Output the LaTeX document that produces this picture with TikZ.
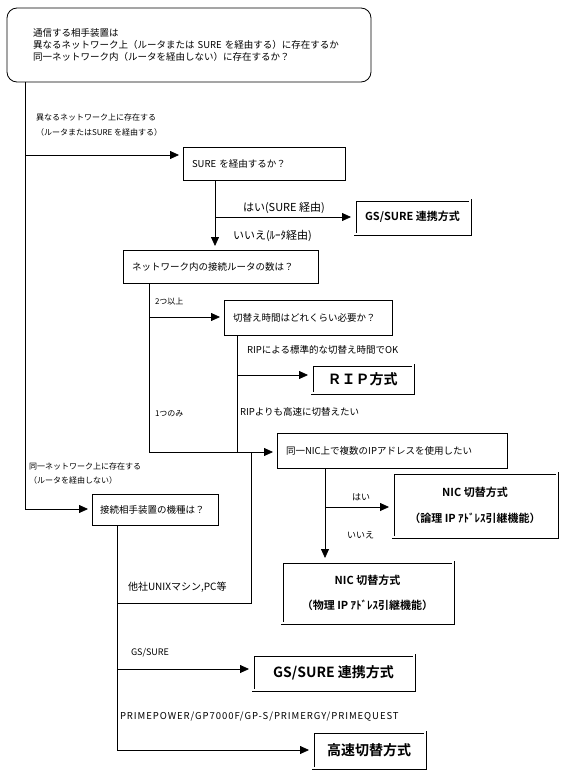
\documentclass[tikz,border=0pt]{standalone}
\usepackage{fontspec}
\setmainfont{Noto Sans CJK JP}[BoldFont={Noto Sans CJK JP Bold}]
\usetikzlibrary{arrows.meta}

\begin{document}
\begin{tikzpicture}[
    x=1pt, y=-1pt,
    every node/.style={inner sep=0pt, outer sep=0pt},
    link/.style={line width=0.8pt},
    arr/.style={link, -{Triangle[length=9pt, width=8pt]}, shorten >=4pt},
    qbox/.style={draw, line width=0.8pt, font=\fontsize{9.5}{12}\selectfont, align=left, inner xsep=9pt, anchor=north west},
    % result boxes
    endbox/.style={draw, double, double distance=1.6pt, line width=0.7pt, font=\bfseries, align=center, anchor=north west},
    lbl/.style={font=\fontsize{9.5}{12}\selectfont, anchor=west, align=left},
    smalllbl/.style={font=\fontsize{8}{15}\selectfont, anchor=west, align=left}
]
    \useasboundingbox (0,0) rectangle (573,778);

    % Question boxes
    \node (top) [draw, line width=0.8pt, rounded corners=10pt, anchor=north west, align=left,
        inner xsep=26pt, text width=312pt, minimum height=74pt, font=\fontsize{9.5}{12}\selectfont]
        at (7,8) {通信する相手装置は\\異なるネットワーク上（ルータまたは SURE を経由する）に存在するか\\同一ネットワーク内（ルータを経由しない）に存在するか？};
    \node (sure) [qbox, text width=144pt, minimum height=33pt] at (183,147) {SURE を経由するか？};
    \node (routers) [qbox, text width=177pt, minimum height=33pt] at (123,250) {ネットワーク内の接続ルータの数は？};
    \node (swtime) [qbox, text width=150pt, minimum height=35pt] at (224,300) {切替え時間はどれくらい必要か？};
    \node (nic) [qbox, text width=212pt, minimum height=35pt] at (277,433) {同一NIC上で複数のIPアドレスを使用したい};
    \node (model) [qbox, inner xsep=8pt, text width=110pt, minimum height=31pt] at (92,494) {接続相手装置の機種は？};

    % Result boxes
    \node (gs1) [endbox, minimum width=115pt, minimum height=34pt, font=\fontsize{11}{13}\bfseries\selectfont] at (355,200) {GS/SURE 連携方式};
    \node (rip) [endbox, minimum width=101pt, minimum height=28pt, font=\fontsize{14}{16}\bfseries\selectfont] at (312,365) {ＲＩＰ方式};
    \node (nicL) [endbox, minimum width=164pt, minimum height=64pt, font=\fontsize{11}{26}\bfseries\selectfont] at (393,473) {NIC 切替方式\\（論理 IP ｱﾄﾞﾚｽ引継機能）};
    \node (nicP) [endbox, minimum width=171pt, minimum height=61pt, font=\fontsize{11}{25}\bfseries\selectfont] at (282,562) {NIC 切替方式\\（物理 IP ｱﾄﾞﾚｽ引継機能）};
    \node (gs2) [endbox, minimum width=161pt, minimum height=35pt, font=\fontsize{14}{16}\bfseries\selectfont] at (253,655) {GS/SURE 連携方式};
    \node (fast) [endbox, minimum width=112pt, minimum height=36pt, font=\fontsize{14}{16}\bfseries\selectfont] at (313,732) {高速切替方式};

    % Branch labels
    \node (lDiff) [smalllbl] at (36,125.5) {異なるネットワーク上に存在する\\（ルータまたはSURE を経由する）};
    \node (lSame) [smalllbl, font=\fontsize{8}{14}\selectfont] at (29,474) {同一ネットワーク上に存在する\\（ルータを経由しない）};
    \node (lSureYes) [lbl, font=\fontsize{11}{13}\selectfont] at (243,208) {はい(SURE 経由)};
    \node (lSureNo) [lbl, font=\fontsize{11}{13}\selectfont] at (233,236) {いいえ(ﾙｰﾀ経由)};
    \node (lMany) [smalllbl] at (155,302) {2つ以上};
    \node (lOne) [smalllbl] at (155,414) {1つのみ};
    \node (lRip) [lbl] at (247,350) {RIPによる標準的な切替え時間でOK};
    \node (lFaster) [lbl] at (240,412) {RIPよりも高速に切替えたい};
    \node (lYes) [lbl, font=\fontsize{9}{11}\selectfont] at (352,497) {はい};
    \node (lNo) [lbl, font=\fontsize{9}{11}\selectfont] at (347,535) {いいえ};
    \node (lOther) [lbl, font=\fontsize{10}{12}\selectfont] at (128,587) {他社UNIXマシン,PC等};
    \node (lGs) [lbl, font=\fontsize{9}{11}\selectfont] at (131,653) {GS/SURE};
    \node (lPrime) [lbl, font=\fontsize{9.5}{11}\selectfont\addfontfeatures{LetterSpace=10}] at (120,717) {PRIMEPOWER/GP7000F/GP-S/PRIMERGY/PRIMEQUEST};

    % Trunk from the first question
    \coordinate (jDiff) at (25,155);
    \coordinate (jSame) at (25,509);
    \draw [link] (top.south -| jDiff) -- (jSame);
    \draw [arr] (jDiff) -- (sure.west |- jDiff);
    \draw [arr] (jSame) -- (model.west |- jSame);

    % Via SURE?
    \coordinate (jSure) at (215,217);
    \draw [arr] (sure.south -| jSure) -- (routers.north -| jSure);
    \draw [arr] (jSure) -- (gs1.west |- jSure);

    % Number of routers
    \coordinate (jMany) at (149,317);
    \coordinate (jOne) at (149,452);
    \draw [link] (routers.south -| jMany) -- (jOne);
    \draw [arr] (jMany) -- (swtime.west |- jMany);
    \draw [arr] (jOne) -- (nic.west |- jOne);

    % Switching time
    \coordinate (jRip) at (237,375);
    \draw [link] (swtime.south -| jRip) -- (jRip |- jOne);
    \draw [arr] (jRip) -- (rip.west |- jRip);

    % Several IP addresses on one NIC
    \coordinate (jYes) at (325,507);
    \draw [arr] (nic.south -| jYes) -- (nicP.north -| jYes);
    \draw [arr] (jYes) -- (nicL.west |- jYes);

    % Device type
    \coordinate (jOther) at (117,603);
    \coordinate (jUp) at (251,603);
    \coordinate (jGs) at (117,669);
    \coordinate (jFast) at (117,750);
    \draw [link] (model.south -| jOther) -- (jFast);
    \draw [link] (jOther) -- (jUp) -- (jUp |- jOne);
    \draw [arr] (jGs) -- (gs2.west |- jGs);
    \draw [arr] (jFast) -- (fast.west |- jFast);
\end{tikzpicture}
\end{document}
